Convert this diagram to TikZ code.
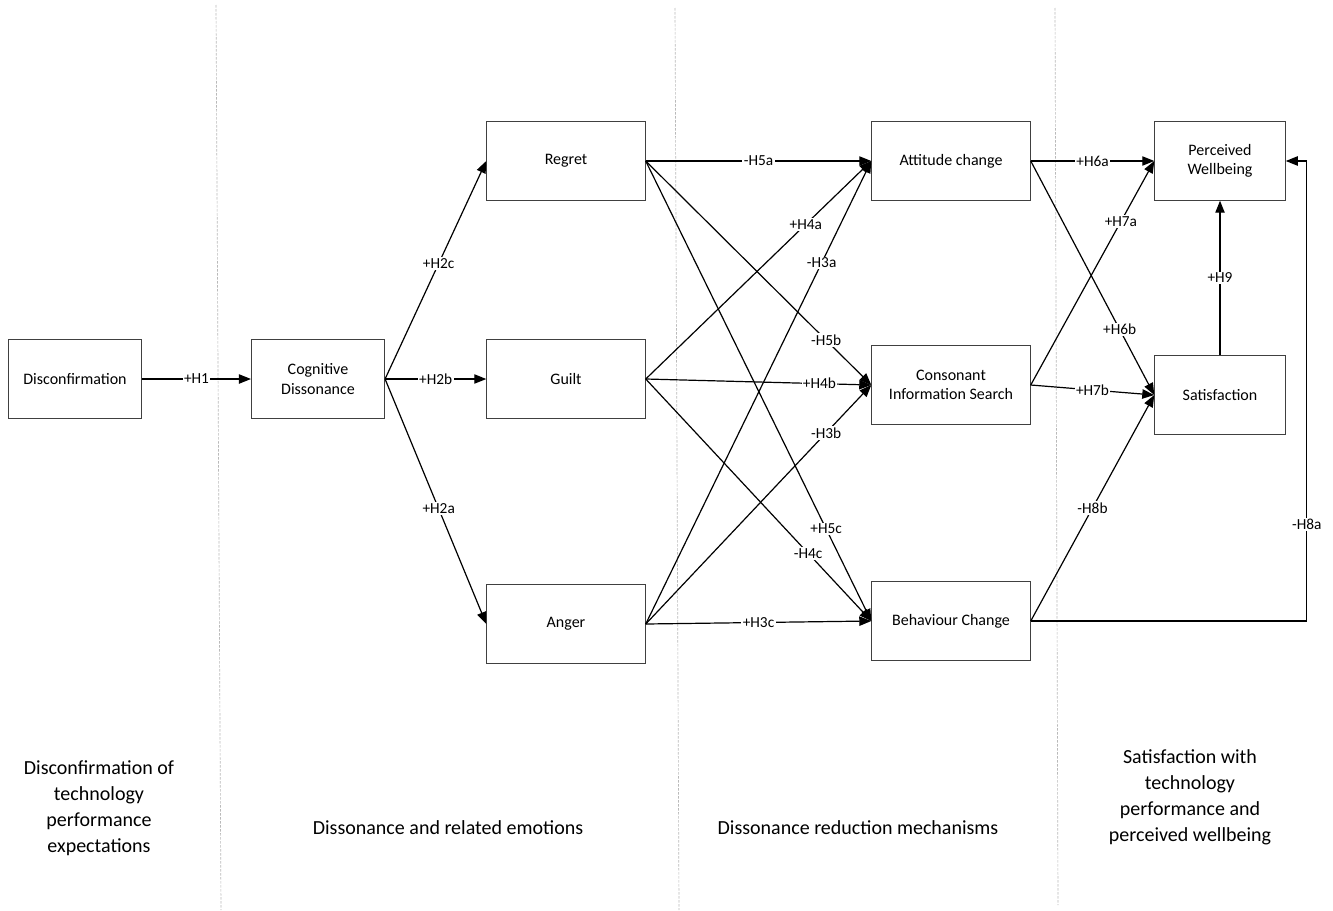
\documentclass[tikz,border=0pt]{standalone}
\usepackage{fontspec}
\setmainfont{Carlito}
\usetikzlibrary{arrows.meta,positioning}

\tikzset{
  box/.style={draw=black!75, line width=0.6pt, rectangle, minimum width=119pt, minimum height=59pt, align=center, font=\fontsize{12}{14.5}\selectfont},
  hyp/.style={fill=white, inner sep=1pt, font=\fontsize{11.5}{13}\selectfont},
  link/.style={-{Triangle[length=9pt,width=7pt]}, line width=0.9pt},
  stage/.style={align=center, font=\fontsize{15}{19.5}\selectfont},
  divider/.style={dashed, dash pattern=on 2pt off 1pt, gray!55, line width=0.5pt}
}

\begin{document}
\begin{tikzpicture}[x=0.75pt, y=-0.75pt]
    \useasboundingbox (0,0) rectangle (1333,910);

    % trennlinien
    \draw[divider] (216,5) -- (221,910);
    \draw[divider] (675,8) -- (679,910);
    \draw[divider] (1055,8) -- (1058,905);

    % konstrukte
    \node[box, minimum width=100pt] (discon) at (75,379) {Disconfirmation};
    \node[box, minimum width=100pt] (cogdis) at (318,379) {Cognitive\\Dissonance};
    \node[box] (regret) at (566,161) {Regret};
    \node[box] (guilt) at (566,379) {Guilt};
    \node[box] (anger) at (566,624) {Anger};
    \node[box] (attitude) at (951,161) {Attitude change};
    \node[box] (consonant) at (951,385) {Consonant\\Information Search};
    \node[box] (behaviour) at (951,621) {Behaviour Change};
    \node[box, minimum width=98pt] (wellbeing) at (1220,161) {Perceived\\Wellbeing};
    \node[box, minimum width=98pt] (satisf) at (1220,395) {Satisfaction};

    % hypothesen
    \draw[link] (discon.east) -- node[hyp]{+H1} (cogdis.west);
    \draw[link] (cogdis.east) -- node[hyp, pos=0.53]{+H2c} (regret.west);
    \draw[link] (cogdis.east) -- node[hyp]{+H2b} (guilt.west);
    \draw[link] (cogdis.east) -- node[hyp, pos=0.53]{+H2a} (anger.west);

    \draw[link] (regret.east) -- node[hyp]{-H5a} (attitude.west);
    \draw[link] (regret.east) -- node[hyp, pos=0.8]{-H5b} (consonant.west);
    \draw[link] (regret.east) -- node[hyp, pos=0.8]{+H5c} (behaviour.west);
    \draw[link] (guilt.east) -- node[hyp, pos=0.71]{+H4a} (attitude.west);
    \draw[link] (guilt.east) -- node[hyp, pos=0.77]{+H4b} (consonant.west);
    \draw[link] (guilt.east) -- node[hyp, pos=0.72]{-H4c} (behaviour.west);
    \draw[link] (anger.east) -- node[hyp, pos=0.78]{-H3a} (attitude.west);
    \draw[link] (anger.east) -- node[hyp, pos=0.8]{-H3b} (consonant.west);
    \draw[link] (anger.east) -- node[hyp]{+H3c} (behaviour.west);

    \draw[link] (attitude.east) -- node[hyp]{+H6a} (wellbeing.west);
    \draw[link] (attitude.east) -- node[hyp, pos=0.72]{+H6b} (satisf.west);
    \draw[link] (consonant.east) -- node[hyp, pos=0.73]{+H7a} (wellbeing.west);
    \draw[link] (consonant.east) -- node[hyp]{+H7b} (satisf.west);
    \draw[link] (behaviour.east) -- node[hyp]{-H8b} (satisf.west);
    \draw[link] (behaviour.east) -- ++(276,0) coordinate (turn) |- node[hyp, pos=0.105]{-H8a} (wellbeing.east);
    \draw[link] (satisf.north) -- node[hyp]{+H9} (wellbeing.south);

    % phasen
    \node[stage] (phase1) at (99,808) {Disconfirmation of\\technology\\performance\\expectations};
    \node[stage] (phase2) at (448,828) {Dissonance and related emotions};
    \node[stage] (phase3) at (858,828) {Dissonance reduction mechanisms};
    \node[stage] (phase4) at (1190,797) {Satisfaction with\\technology\\performance and\\perceived wellbeing};

\end{tikzpicture}
\end{document}
